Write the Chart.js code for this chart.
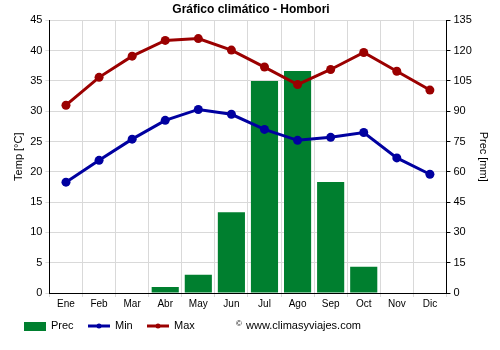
<!DOCTYPE html>
<html>
<head>
<meta charset="utf-8">
<script src="https://cdn.jsdelivr.net/npm/chart.js@4/dist/chart.umd.min.js"></script>
<style>
  html, body { margin: 0; padding: 0; background: #fff; }
  #wrap { width: 500px; height: 350px; position: relative; }
</style>
</head>
<body>
<div id="wrap"><canvas id="c" width="500" height="350"></canvas></div>
<script>
const months = ['Ene', 'Feb', 'Mar', 'Abr', 'May', 'Jun', 'Jul', 'Ago', 'Sep', 'Oct', 'Nov', 'Dic'];
const precMm = [0, 0.3, 0.2, 3, 9, 40, 105, 110, 55, 13, 0.2, 0.3];
const tempMin = [18.3, 21.9, 25.4, 28.5, 30.3, 29.5, 27.0, 25.2, 25.7, 26.5, 22.3, 19.6];
const tempMax = [31.0, 35.6, 39.1, 41.7, 42.0, 40.1, 37.3, 34.4, 36.9, 39.7, 36.6, 33.5];

const GREEN = '#007f2f';
const BLUE = '#0000a0';
const RED = '#9b0000';
const FONT = "'Liberation Sans', Arial, sans-serif";

// Legend and site credit drawn along the bottom edge
const footer = {
  id: 'footer',
  afterDraw(chart) {
    const ctx = chart.ctx;
    const y = 326;
    ctx.save();
    ctx.font = '11px ' + FONT;
    ctx.textBaseline = 'middle';
    ctx.fillStyle = GREEN;
    ctx.fillRect(24, y - 4, 22, 9);
    ctx.fillStyle = '#000';
    ctx.fillText('Prec', 51, y);
    const items = [[88, BLUE, 'Min'], [147, RED, 'Max']];
    items.forEach(([x, col, label]) => {
      ctx.strokeStyle = col;
      ctx.lineWidth = 3;
      ctx.beginPath();
      ctx.moveTo(x, y);
      ctx.lineTo(x + 22, y);
      ctx.stroke();
      ctx.fillStyle = col;
      ctx.beginPath();
      ctx.arc(x + 11, y, 2.5, 0, Math.PI * 2);
      ctx.fill();
      ctx.fillStyle = '#000';
      ctx.fillText(label, x + 27, y);
    });
    ctx.font = '8px ' + FONT;
    ctx.fillText('©', 236, y - 2);
    ctx.font = '11px ' + FONT;
    ctx.fillText('www.climasyviajes.com', 246, y);
    ctx.restore();
  }
};

new Chart(document.getElementById('c'), {
  data: {
    labels: months,
    datasets: [
      {
        type: 'line', label: 'Max', data: tempMax, yAxisID: 'yT',
        borderColor: RED, backgroundColor: RED, borderWidth: 3,
        pointRadius: 4.5, pointBorderWidth: 0, pointHoverRadius: 4.5, order: 1
      },
      {
        type: 'line', label: 'Min', data: tempMin, yAxisID: 'yT',
        borderColor: BLUE, backgroundColor: BLUE, borderWidth: 3,
        pointRadius: 4.5, pointBorderWidth: 0, pointHoverRadius: 4.5, order: 2
      },
      {
        type: 'bar', label: 'Prec', data: precMm, yAxisID: 'yP',
        backgroundColor: GREEN, borderWidth: 0,
        barPercentage: 0.82, categoryPercentage: 1.0, order: 3
      }
    ]
  },
  options: {
    responsive: false,
    animation: false,
    layout: { padding: { left: 10, right: 8, top: 0, bottom: 39 } },
    plugins: {
      legend: { display: false },
      tooltip: { enabled: false },
      title: {
        display: true, text: 'Gráfico climático - Hombori', color: '#000',
        font: { family: FONT, size: 12, weight: 'bold' },
        padding: { top: 2, bottom: 4 }
      }
    },
    scales: {
      x: {
        offset: true,
        grid: { offset: true, color: '#d9d9d9', tickLength: 4, drawTicks: true },
        border: { color: '#000', width: 1 },
        ticks: { color: '#000', font: { family: FONT, size: 10 }, padding: 1, maxRotation: 0 }
      },
      yT: {
        position: 'left', min: 0, max: 45,
        ticks: { stepSize: 5, color: '#000', font: { family: FONT, size: 11 }, padding: 3 },
        grid: { color: '#d9d9d9', tickLength: 4 },
        border: { color: '#000', width: 1 },
        title: { display: true, text: 'Temp [°C]', color: '#000', font: { family: FONT, size: 11 }, padding: 2 }
      },
      yP: {
        position: 'right', min: 0, max: 135,
        ticks: { stepSize: 15, color: '#000', font: { family: FONT, size: 11 }, padding: 3 },
        grid: { drawOnChartArea: false, tickLength: 4, color: '#000' },
        border: { color: '#000', width: 1 },
        title: { display: true, text: 'Prec [mm]', color: '#000', font: { family: FONT, size: 11 }, padding: 2 }
      }
    }
  },
  plugins: [footer]
});
</script>
</body>
</html>
